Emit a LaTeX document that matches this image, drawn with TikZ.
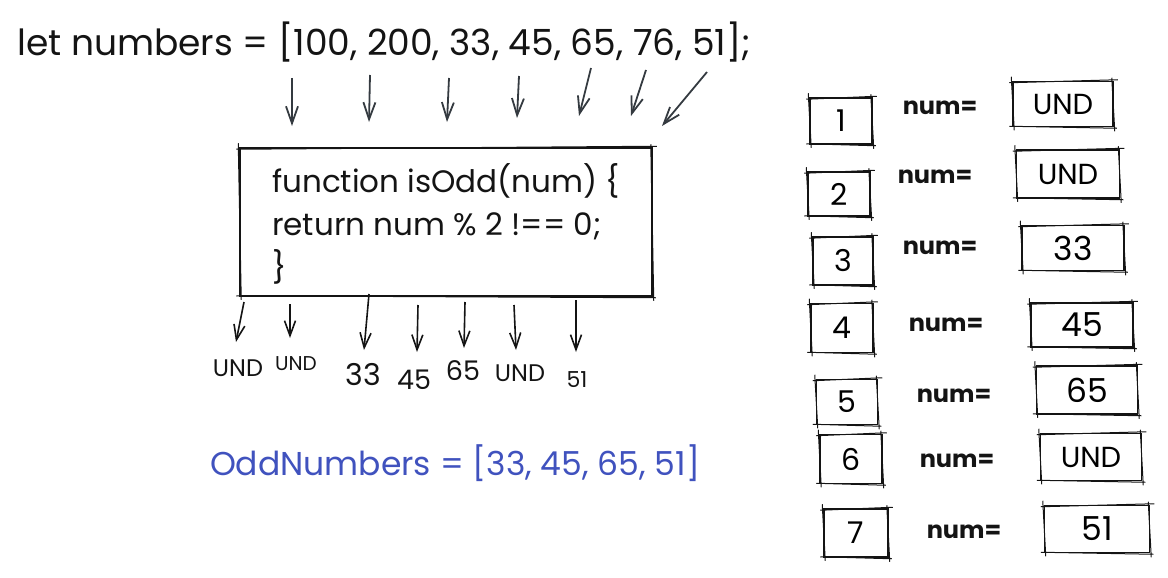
\documentclass[tikz,border=0pt]{standalone}
\usepackage{fontspec}
\setmainfont{Poppins}
\usetikzlibrary{arrows.meta}
\definecolor{ink}{RGB}{20,20,20}
\definecolor{arr}{RGB}{52,58,64}
\definecolor{blu}{RGB}{64,82,190}
\newcommand\rgh[1]{\draw[rough] ([shift={(-3,2)}]#1.north west) -- ([shift={(4,-1)}]#1.north east)
  ([shift={(-2,-3)}]#1.north east) -- ([shift={(1,4)}]#1.south east)
  ([shift={(3,1)}]#1.south east) -- ([shift={(-3,-1)}]#1.south west)
  ([shift={(2,3)}]#1.south west) -- ([shift={(-1,-4)}]#1.north west);}
\begin{document}
\begin{tikzpicture}[x=1pt,y=-1pt,
  box/.style={draw=ink, line width=1.5pt, inner sep=0pt, rectangle},
  rough/.style={draw=ink, line width=1pt},
  harr/.style={-{Straight Barb[length=17pt,width=12pt]}, line width=1.8pt, draw=arr},
  barr/.style={-{Straight Barb[length=15pt,width=11pt]}, line width=1.6pt, draw=ink},
  lbl/.style={text=ink, inner sep=0pt}]
\useasboundingbox (0,0) rectangle (1168,578);
% top code
\node[lbl, anchor=west, font=\fontsize{36}{40}\selectfont] (arr) at (17,42) {let numbers = [100, 200, 33, 45, 65, 76, 51];};
% function box
\node[box, minimum width=412pt, minimum height=148pt] (fn) at (446,222) {};
\rgh{fn}
\node[lbl, anchor=west, align=left, font=\fontsize{31}{43}\selectfont] (code) at (272,224) {function isOdd(num) \{\\return num \% 2 !== 0;\\\}};
% top arrows
\coordinate (t1s) at (292,78); \coordinate (t1e) at (292,126);
\coordinate (t2s) at (370,75); \coordinate (t2e) at (369,122);
\coordinate (t3s) at (449,78); \coordinate (t3e) at (447,122);
\coordinate (t4s) at (519,76); \coordinate (t4e) at (517,118);
\coordinate (t5s) at (591,68); \coordinate (t5e) at (579,116);
\coordinate (t6s) at (646,70); \coordinate (t6e) at (631,116);
\coordinate (t7s) at (707,72); \coordinate (t7e) at (662,126);
\foreach \i in {1,...,7} {\draw[harr] (t\i s) -- (t\i e);}
% bottom arrows and labels
\coordinate (b1s) at (244,302); \coordinate (b1e) at (236,342);
\coordinate (b2s) at (290,304); \coordinate (b2e) at (290,338);
\coordinate (b3s) at (369,294); \coordinate (b3e) at (364,350);
\coordinate (b4s) at (418,305); \coordinate (b4e) at (417,352);
\coordinate (b5s) at (465,302); \coordinate (b5e) at (464,348);
\coordinate (b6s) at (514,305); \coordinate (b6e) at (516,350);
\coordinate (b7s) at (576,300); \coordinate (b7e) at (576,352);
\foreach \i in {1,...,7} {\draw[barr] (b\i s) -- (b\i e);}
\node[lbl, font=\fontsize{24}{28}\selectfont] (o1) at (238,368) {UND};
\node[lbl, font=\fontsize{20}{24}\selectfont] (o2) at (296,364) {UND};
\node[lbl, font=\fontsize{30}{34}\selectfont] (o3) at (363,375) {33};
\node[lbl, font=\fontsize{27}{30}\selectfont] (o4) at (414,380) {45};
\node[lbl, font=\fontsize{27}{30}\selectfont] (o5) at (463,371) {65};
\node[lbl, font=\fontsize{24}{28}\selectfont] (o6) at (520,373) {UND};
\node[lbl, font=\fontsize{22}{26}\selectfont] (o7) at (577,380) {51};
% result
\node[lbl, text=blu, font=\fontsize{33}{38}\selectfont] (res) at (455,463) {OddNumbers = [33, 45, 65, 51]};
% right table
\foreach \i/\x/\y/\w/\h in {1/841/121/62/46, 2/839/194/62/44, 3/843/261/60/48, 4/842/328/62/49, 5/847/402/61/45, 6/851/459/62/49, 7/856/533/64/48} {
  \node[box, minimum width=\w pt, minimum height=\h pt, font=\fontsize{30}{32}\selectfont] (k\i) at (\x,\y) {\i};
  \rgh{k\i}
}
\foreach \i/\x/\y in {1/940/108, 2/935/177, 3/940/248, 4/946/325, 5/954/396, 6/957/461, 7/964/532} {
  \node[lbl, font=\bfseries\fontsize{24}{26}\selectfont] (n\i) at (\x,\y) {num=};
}
\foreach \i/\x/\y/\w/\h/\t/\s in {1/1063/104/100/45/UND/29, 2/1068/174/103/48/UND/29, 3/1073/248/102/45/33/33, 4/1082/325/102/44/45/33, 5/1087/390/101/48/65/33, 6/1091/457/101/47/UND/29, 7/1097/529/105/47/51/33} {
  \node[box, minimum width=\w pt, minimum height=\h pt, font=\fontsize{\s}{36}\selectfont] (v\i) at (\x,\y) {\t};
  \rgh{v\i}
}
\end{tikzpicture}
\end{document}
